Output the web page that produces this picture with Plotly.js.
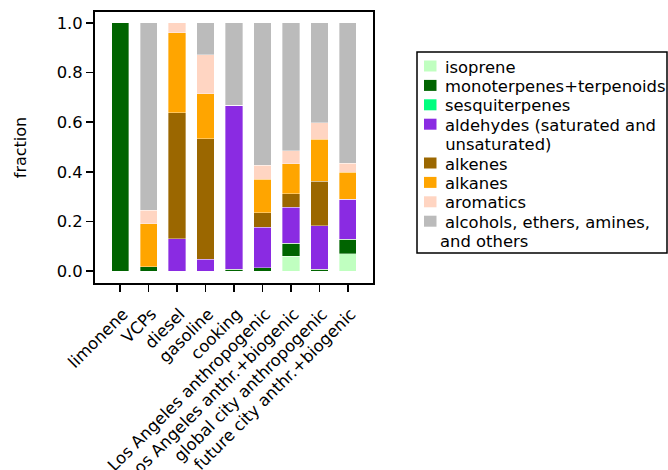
<!DOCTYPE html>
<html>
<head>
<meta charset="utf-8">
<script src="https://cdn.plot.ly/plotly-3.0.1.min.js"></script>
<style>html,body{margin:0;padding:0;background:#fff;}#chart{width:668px;height:470px;}</style>
</head>
<body>
<div id="chart"></div>
<script>
const categories = ["limonene", "VCPs", "diesel", "gasoline", "cooking",
  "Los Angeles anthropogenic", "Los Angeles anthr.+biogenic",
  "global city anthropogenic", "future city anthr.+biogenic"];

const seriesNames = ["isoprene", "monoterpenes+terpenoids", "sesquiterpenes",
  "aldehydes (saturated and<br>\u00a0unsaturated)", "alkenes", "alkanes", "aromatics",
  "alcohols, ethers, amines,<br>and others"];

const isoprene      = [0,    0,     0,     0,     0,     0,     0.060, 0,     0.070];
const monoterpenes  = [1.0,  0.017, 0,     0,     0.007, 0.013, 0.052, 0.007, 0.058];
const sesquiterpenes= [0,    0,     0,     0,     0,     0,     0,     0,     0];
const aldehydes     = [0,    0,     0.130, 0.047, 0.661, 0.163, 0.145, 0.176, 0.161];
const alkenes       = [0,    0,     0.508, 0.487, 0,     0.059, 0.055, 0.179, 0];
const alkanes       = [0,    0.173, 0.323, 0.180, 0,     0.135, 0.121, 0.169, 0.109];
const aromatics     = [0,    0.056, 0.039, 0.157, 0,     0.056, 0.051, 0.066, 0.036];
const alcohols      = [0,    0.754, 0,     0.129, 0.332, 0.574, 0.516, 0.403, 0.566];

const colors = ["#c0ffc0", "#006400", "#00ff7f", "#8a2be2", "#9b6700", "#ffa500", "#ffd5c2", "#bbbbbb"];

const values = [isoprene, monoterpenes, sesquiterpenes, aldehydes, alkenes, alkanes, aromatics, alcohols];

const traces = values.map((v, i) => ({
  type: "bar",
  name: seriesNames[i].replace("<br>", " "),
  x: categories,
  y: v,
  width: 0.6,
  marker: {color: colors[i], line: {color: "rgba(255,255,255,0.45)", width: 0.8}},
  showlegend: false
}));

const FS = 16.4;
const font = {family: "DejaVu Sans", size: FS, color: "#000"};

// plot area in pixels (for the hand-built legend, paper coords)
const M = {l: 95, r: 295, t: 12, b: 187};
const W = 668, H = 470;
const pw = W - M.l - M.r, ph = H - M.t - M.b;
const px = p => (p - M.l) / pw;
const py = p => (H - M.b - p) / ph;

const shapes = [];
const annotations = [];
// legend box
shapes.push({type: "rect", xref: "paper", yref: "paper",
  x0: px(417), x1: px(667), y0: py(253), y1: py(52),
  line: {color: "#000", width: 1.5}, fillcolor: "rgba(255,255,255,0.8)", layer: "above"});
let line = 0;
const lineH = 19.4, firstY = 66;
seriesNames.forEach((name, i) => {
  const parts = name.split("<br>");
  const cy = firstY + lineH * line;
  shapes.push({type: "rect", xref: "paper", yref: "paper",
    x0: px(424), x1: px(436.5), y0: py(cy + 5.5), y1: py(cy - 5.5),
    line: {width: 0}, fillcolor: colors[i], layer: "above"});
  parts.forEach((t, j) => {
    annotations.push({xref: "paper", yref: "paper", x: px(j === 0 ? 443 : 438), y: py(cy + lineH * j + 1),
      xanchor: "left", yanchor: "middle", text: t, showarrow: false, font: font, align: "left"});
  });
  line += parts.length;
});

const layout = {
  width: W, height: H,
  margin: M,
  barmode: "stack",
  paper_bgcolor: "#fff", plot_bgcolor: "#fff",
  font: font,
  showlegend: false,
  shapes: shapes,
  annotations: annotations,
  xaxis: {
    type: "category",
    range: [-0.88, 8.88],
    tickangle: -45,
    automargin: false,
    ticks: "outside", ticklen: 7, tickwidth: 1.6, tickcolor: "#000",
    ticklabelstandoff: 6, ticklabelshift: 3,
    showline: true, linecolor: "#000", linewidth: 2, mirror: true,
    showgrid: false, zeroline: false,
    tickfont: font
  },
  yaxis: {
    range: [-0.048, 1.044],
    automargin: false,
    tickvals: [0, 0.2, 0.4, 0.6, 0.8, 1.0],
    ticktext: ["0.0", "0.2", "0.4", "0.6", "0.8", "1.0"],
    ticks: "outside", ticklen: 7, tickwidth: 1.6, tickcolor: "#000",
    showline: true, linecolor: "#000", linewidth: 2, mirror: true,
    showgrid: false, zeroline: false,
    tickfont: font,
    title: {text: "fraction", font: {family: "DejaVu Sans", size: 16, color: "#000"}, standoff: 26}
  }
};

Plotly.newPlot("chart", traces, layout, {displayModeBar: false, staticPlot: true});
</script>
</body>
</html>
